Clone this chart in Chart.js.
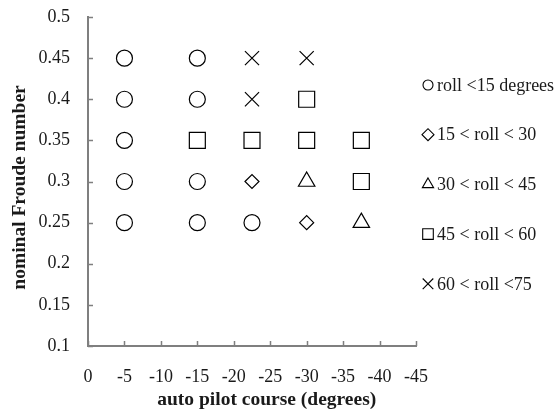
<!DOCTYPE html>
<html>
<head>
<meta charset="utf-8">
<script src="https://cdn.jsdelivr.net/npm/chart.js@4/dist/chart.umd.min.js"></script>
<style>
  html, body { margin: 0; padding: 0; background: #fff; }
  #wrap { width: 559px; height: 412px; position: relative; }
</style>
</head>
<body>
<div id="wrap"><canvas id="c" width="559" height="412"></canvas></div>
<script>
// Axis ticks and labels
const courseTicks = [0, -5, -10, -15, -20, -25, -30, -35, -40, -45];
const courseTickLabels = ['0', '-5', '-10', '-15', '-20', '-25', '-30', '-35', '-40', '-45'];
const froudeTicks = [0.1, 0.15, 0.2, 0.25, 0.3, 0.35, 0.4, 0.45, 0.5];
const froudeTickLabels = ['0.1', '0.15', '0.2', '0.25', '0.3', '0.35', '0.4', '0.45', '0.5'];

const xTitle = 'auto pilot course (degrees)';
const yTitle = 'nominal Froude number';

// Roll classes
const seriesNames = ['roll <15 degrees', '15 < roll < 30', '30 < roll < 45', '45 < roll < 60', '60 < roll <75'];

// roll < 15
const roll15Course = [-5, -15, -5, -15, -5, -5, -15, -5, -15, -22.5];
const roll15Froude = [0.45, 0.45, 0.4, 0.4, 0.35, 0.3, 0.3, 0.25, 0.25, 0.25];
// 15 < roll < 30
const roll30Course = [-22.5, -30];
const roll30Froude = [0.3, 0.25];
// 30 < roll < 45
const roll45Course = [-30, -37.5];
const roll45Froude = [0.3, 0.25];
// 45 < roll < 60
const roll60Course = [-30, -15, -22.5, -30, -37.5, -37.5];
const roll60Froude = [0.4, 0.35, 0.35, 0.35, 0.35, 0.3];
// 60 < roll < 75
const roll75Course = [-22.5, -30, -22.5];
const roll75Froude = [0.45, 0.45, 0.4];

const pairs = (xs, ys) => xs.map((x, i) => ({ x: x, y: ys[i] }));

const markerStyles = ['circle', 'rectRot', 'triangle', 'rect', 'crossRot'];
const markerRadius = [8, 7, 9.5, 11.3, 10];
const legendRadius = [5, 6, 6.5, 7.5, 7.5];

const seriesData = [
  pairs(roll15Course, roll15Froude),
  pairs(roll30Course, roll30Froude),
  pairs(roll45Course, roll45Froude),
  pairs(roll60Course, roll60Froude),
  pairs(roll75Course, roll75Froude)
];

const datasets = seriesData.map((d, i) => ({
  label: seriesNames[i],
  data: d,
  pointStyle: markerStyles[i],
  pointRadius: markerRadius[i],
  pointHoverRadius: markerRadius[i],
  borderColor: '#000',
  backgroundColor: 'rgba(255,255,255,0)',
  borderWidth: 1.2,
  showLine: false
}));

const serif = '"Liberation Serif", "Times New Roman", serif';
const axisGray = '#7f7f7f';
const textColor = '#1a1a1a';

// Short tick marks pointing into the plot, plus axis titles and the side legend
const decorations = {
  id: 'decorations',
  afterDraw(chart) {
    const ctx = chart.ctx;
    const xs = chart.scales.x, ys = chart.scales.y;
    const area = chart.chartArea;
    ctx.save();
    ctx.strokeStyle = axisGray;
    ctx.lineWidth = 1.5;
    ctx.beginPath();
    froudeTicks.forEach(v => {
      const py = Math.round(ys.getPixelForValue(v)) + 0.5;
      ctx.moveTo(area.left, py);
      ctx.lineTo(area.left + 5, py);
    });
    courseTicks.forEach(v => {
      const px = Math.round(xs.getPixelForValue(v)) + 0.5;
      ctx.moveTo(px, area.bottom);
      ctx.lineTo(px, area.bottom - 5);
    });
    ctx.stroke();

    // axis titles
    ctx.fillStyle = textColor;
    ctx.font = 'bold 19.5px ' + serif;
    ctx.textAlign = 'center';
    ctx.textBaseline = 'middle';
    ctx.fillText(xTitle, area.left + (area.right - area.left) * 0.545, 400);
    ctx.save();
    ctx.translate(20, (area.top + area.bottom) / 2 + 6);
    ctx.rotate(-Math.PI / 2);
    ctx.fillText(yTitle, 0, 0);
    ctx.restore();

    // legend
    ctx.font = '18px ' + serif;
    ctx.textAlign = 'left';
    ctx.textBaseline = 'middle';
    chart.data.datasets.forEach((ds, i) => {
      const cy = 85 + i * 49.7;
      ctx.strokeStyle = '#000';
      ctx.fillStyle = 'rgba(255,255,255,0)';
      ctx.lineWidth = 1.1;
      Chart.helpers.drawPoint(ctx, {
        pointStyle: ds.pointStyle,
        radius: legendRadius[i],
        rotation: 0,
        borderWidth: 1.1
      }, 428, cy);
      ctx.fillStyle = textColor;
      ctx.fillText(ds.label, 437, cy + 1);
    });
    ctx.restore();
  }
};

new Chart(document.getElementById('c'), {
  type: 'scatter',
  data: { datasets: datasets },
  options: {
    responsive: false,
    animation: false,
    devicePixelRatio: 1,
    layout: { padding: { left: 0, top: 17, right: 143, bottom: 0 } },
    plugins: {
      legend: { display: false },
      tooltip: { enabled: false }
    },
    scales: {
      x: {
        type: 'linear',
        min: -45,
        max: 0,
        reverse: true,
        afterBuildTicks: s => { s.ticks = courseTicks.map(v => ({ value: v })); },
        afterFit: s => { s.height = 66; },
        ticks: {
          autoSkip: false,
          maxRotation: 0,
          padding: 20,
          color: textColor,
          font: { family: serif, size: 18 },
          callback: v => courseTickLabels[courseTicks.indexOf(v)]
        },
        grid: { display: true, drawOnChartArea: false, drawTicks: false },
        border: { display: true, color: axisGray, width: 2 }
      },
      y: {
        type: 'linear',
        min: 0.1,
        max: 0.5,
        afterBuildTicks: s => { s.ticks = froudeTicks.map(v => ({ value: v })); },
        afterFit: s => { s.width = 88; s.paddingTop = 0; s.paddingBottom = 0; },
        ticks: {
          autoSkip: false,
          padding: 18,
          color: textColor,
          font: { family: serif, size: 18 },
          callback: v => froudeTickLabels[froudeTicks.findIndex(t => Math.abs(t - v) < 1e-9)]
        },
        grid: { display: true, drawOnChartArea: false, drawTicks: false },
        border: { display: true, color: axisGray, width: 2 }
      }
    }
  },
  plugins: [decorations]
});
</script>
</body>
</html>
